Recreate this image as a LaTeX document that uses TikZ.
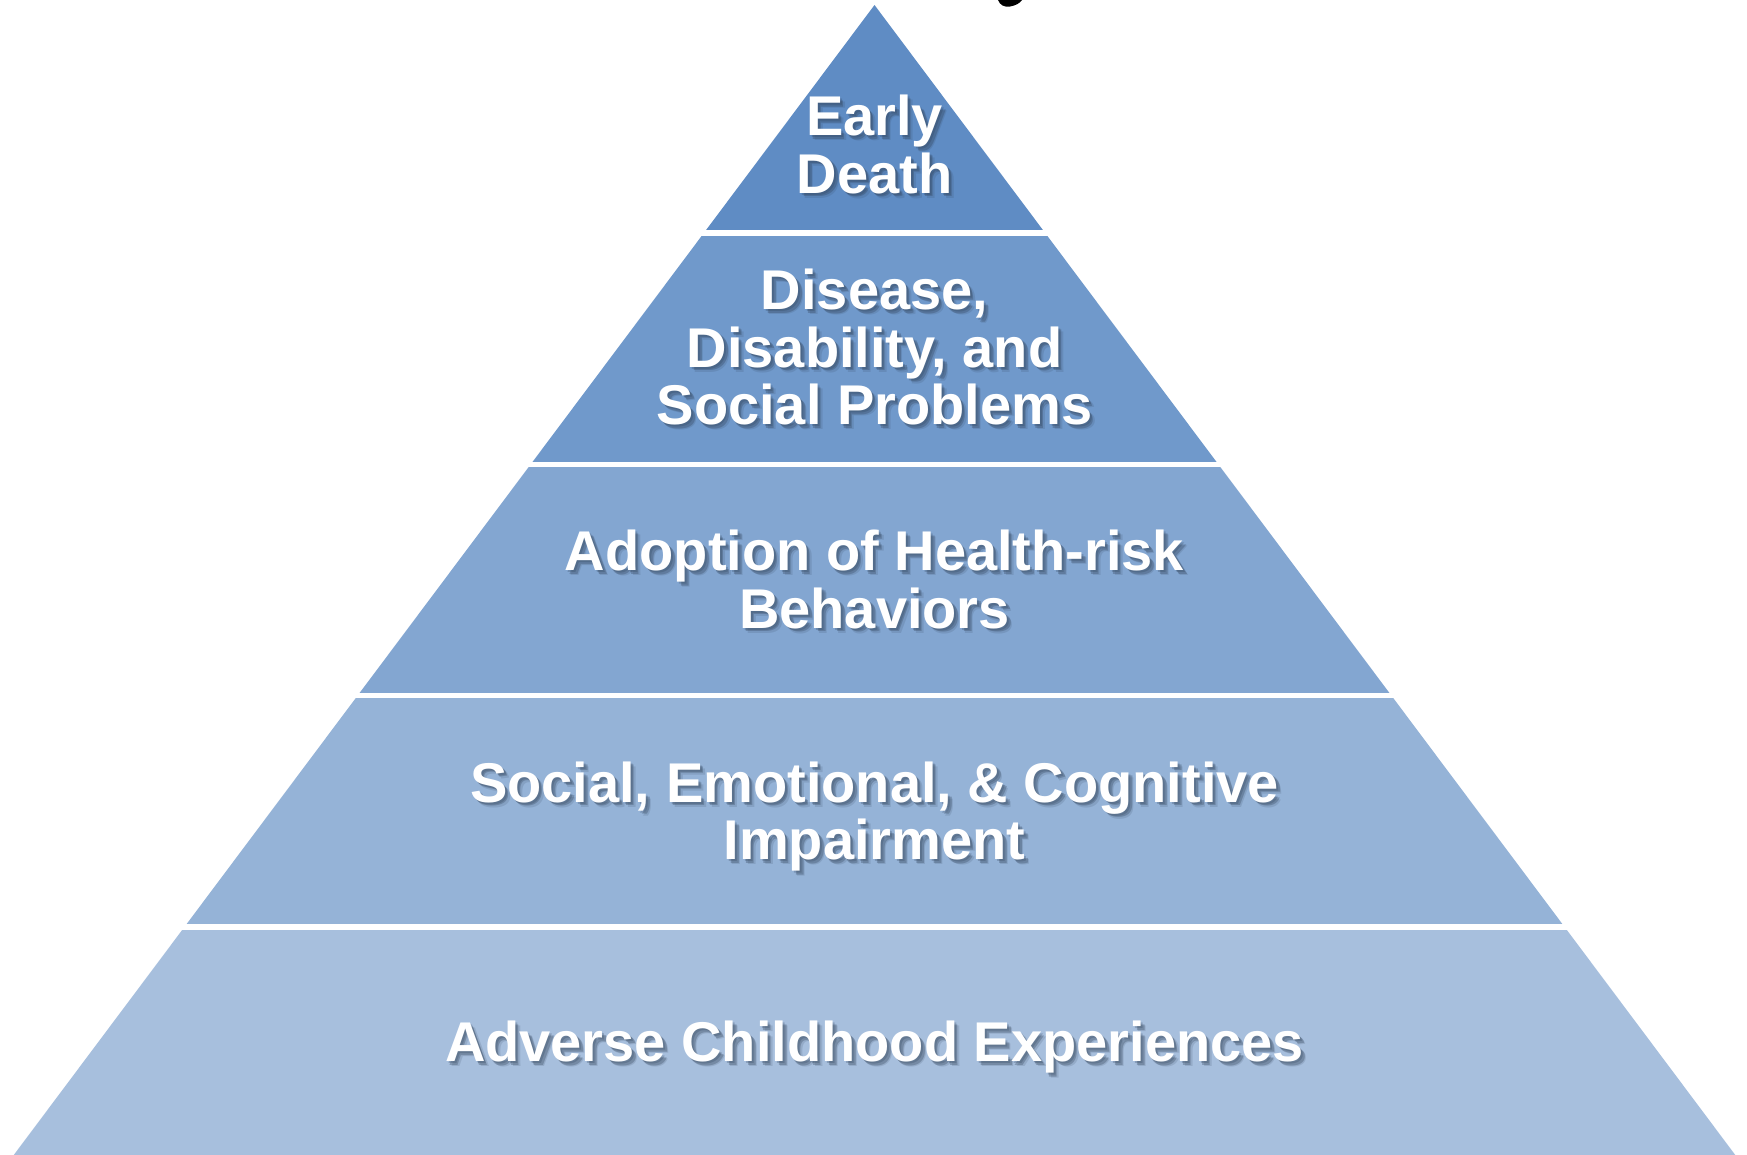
\documentclass[tikz,border=0pt]{standalone}
\usepackage{fontspec}
\setmainfont{Liberation Sans}
\usetikzlibrary{calc}
\definecolor{tierA}{HTML}{5F8CC4}
\definecolor{tierB}{HTML}{7099CB}
\definecolor{tierC}{HTML}{83A6D1}
\definecolor{tierD}{HTML}{95B3D7}
\definecolor{tierE}{HTML}{A7BFDD}
\definecolor{shadowc}{HTML}{2E3F55}
\tikzset{
  lbl/.style={font=\fontsize{56}{57.5}\selectfont\bfseries, text=white, align=center, inner sep=0pt, anchor=base},
  shd/.style={lbl, text=shadowc, opacity=#1},
}
\newcommand{\tierlabel}[3]{%
  \node[shd=0.25] (#1sa) at ($(#2)+(2,2)$) {#3};
  \node[shd=0.3] (#1sb) at ($(#2)+(3.5,3.5)$) {#3};
  \node[shd=0.15] (#1sc) at ($(#2)+(5,5)$) {#3};
  \node[lbl] (#1) at (#2) {#3};
}
\begin{document}
\begin{tikzpicture}[x=1pt,y=-1pt]
\useasboundingbox (0,0) rectangle (1747,1154);
\fill[white] (0,0) rectangle (1747,1154);
% fragment of a cut-off title glyph
\fill[black] (998,0) .. controls (1000,5) and (1004,7.5) .. (1010,6.5) .. controls (1016,5.5) and (1020,3) .. (1022,0) -- cycle;
\begin{scope}
  \clip (874.5,5) -- (10,1160) -- (1739,1160) -- cycle;
  \fill[tierA] (0,0) rectangle (1747,230.4);
  \fill[tierB] (0,235.7) rectangle (1747,461.6);
  \fill[tierC] (0,467.0) rectangle (1747,693.0);
  \fill[tierD] (0,698.4) rectangle (1747,924.4);
  \fill[tierE] (0,929.7) rectangle (1747,1160);
\end{scope}
\tierlabel{early}{874.5,193}{Early\\Death}
\tierlabel{disease}{874.5,424.5}{Disease,\\Disability, and\\Social Problems}
\tierlabel{adopt}{874.5,628}{Adoption of Health-risk\\Behaviors}
\tierlabel{social}{874.5,859.5}{Social, Emotional, \& Cognitive\\Impairment}
\tierlabel{ace}{874.5,1061.5}{Adverse Childhood Experiences}
\end{tikzpicture}
\end{document}
